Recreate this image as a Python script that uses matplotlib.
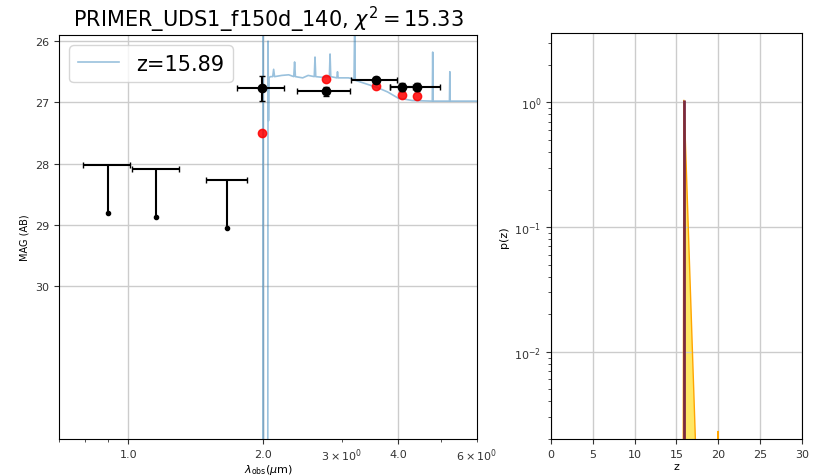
import numpy as np
import matplotlib
matplotlib.use("Agg")
import matplotlib.pyplot as plt

# --- photometry (AB mag) ---
det_wave = [1.99, 2.76, 3.57, 4.08, 4.40]
det_wlo = [1.75, 2.38, 3.14, 3.84, 3.84]
det_whi = [2.23, 3.12, 3.98, 4.33, 4.96]
det_mag = [26.77, 26.82, 26.63, 26.75, 26.75]
det_err = [0.20, 0.07, 0.05, 0.07, 0.06]
model_mag = [27.50, 26.62, 26.73, 26.88, 26.89]

lim_wave = [0.90, 1.15, 1.66]
lim_wlo = [0.79, 1.02, 1.49]
lim_whi = [1.01, 1.30, 1.84]
lim_mag = [28.02, 28.09, 28.27]

# --- best-fit template spectrum (vertices) ---
spec_wave = [1.97, 1.995, 2.000, 2.005, 2.03, 2.045, 2.050, 2.055, 2.06, 2.075,
             2.10, 2.11, 2.12, 2.20, 2.28, 2.34, 2.35, 2.36, 2.45, 2.52,
             2.60, 2.61, 2.62, 2.70, 2.81, 2.82, 2.83, 2.92, 2.93, 2.94,
             3.10, 3.19, 3.20, 3.21, 3.40, 3.60, 3.79, 4.00, 4.30, 4.77,
             4.78, 4.79, 5.21, 5.22, 5.23, 5.60, 6.10]
spec_mag = [40.0, 40.0, 25.9, 40.0, 40.0, 40.0, 26.0, 27.3, 26.60, 26.58,
            26.58, 26.46, 26.58, 26.56, 26.55, 26.58, 26.34, 26.58, 26.60, 26.56,
            26.58, 26.26, 26.58, 26.59, 26.58, 26.21, 26.58, 26.60, 26.50, 26.60,
            26.60, 26.62, 25.70, 26.64, 26.70, 26.76, 26.83, 26.93, 26.97, 26.98,
            26.18, 26.98, 26.98, 26.50, 26.98, 26.98, 26.98]

z_best = 15.89
chi2 = 15.33
obj_id = "PRIMER_UDS1_f150d_140"

# --- redshift probability ---
z_grid = [0.0, 15.55, 15.72, 15.89, 16.06, 16.23, 16.40, 16.57, 16.74, 16.91,
          17.08, 17.25, 17.42, 19.63, 19.80, 19.97, 20.14, 20.31, 30.0]
pz = [0.0, 0.0, 1e-6, 1.04, 0.50, 0.23, 0.105, 0.048, 0.022, 0.0100,
      0.0046, 0.0021, 1e-4, 0.0, 1e-4, 0.0023, 1e-4, 0.0, 0.0]

fig = plt.figure(figsize=(8.21, 4.77), dpi=100)
ax = fig.add_axes([0.0719, 0.0776, 0.5090, 0.8469])
axz = fig.add_axes([0.6711, 0.0776, 0.3057, 0.8511])

# SED panel
ax.plot(spec_wave, spec_mag, color="#1f77b4", alpha=0.45, lw=1.2,
        label=f"z={z_best:.2f}")
ax.plot(det_wave, model_mag, "o", color="red", ms=6, alpha=0.85, zorder=4)
xerr = [np.subtract(det_wave, det_wlo), np.subtract(det_whi, det_wave)]
ax.errorbar(det_wave, det_mag, xerr=xerr, yerr=det_err, fmt="o", color="k",
            ms=6, lw=1.5, capsize=2, zorder=5)

arrow_len = 0.78
lxerr = [np.subtract(lim_wave, lim_wlo), np.subtract(lim_whi, lim_wave)]
ax.errorbar(lim_wave, lim_mag, xerr=lxerr, fmt="none", ecolor="k", lw=1.5,
            capsize=2, zorder=5)
lim_end = np.add(lim_mag, arrow_len)
ax.vlines(lim_wave, lim_mag, lim_end, color="k", lw=1.5, zorder=5)
ax.plot(lim_wave, lim_end, "o", color="k", ms=3, zorder=5)

ax.set_xscale("log")
ax.set_xlim(0.7, 6.0)
ax.set_ylim(32.5, 25.9)
ax.set_yticks([26, 27, 28, 29, 30])
ax.set_xticks([1, 2, 4])
ax.set_xticklabels(["1.0", "2.0", "4.0"])
ax.tick_params(labelsize=8, colors="#333333")
ax.tick_params(which="minor", labelsize=8, colors="#333333")
ax.grid(True, which="major", color="#cccccc", lw=1)
ax.set_xlabel(r"$\lambda_{\rm obs}$($\mu$m)", fontsize=8, labelpad=-1)
ax.set_ylabel("MAG (AB)", fontsize=7)
ax.set_title(f"{obj_id}, $\\chi^2 = {chi2:.2f}$", fontsize=15)
ax.legend(loc="upper left", fontsize=15)

# p(z) panel
axz.fill_between(z_grid, pz, color="#ffe033", alpha=0.75, lw=0)
axz.plot(z_grid, pz, color="orange", lw=1)
axz.vlines(z_best, 1e-4, max(pz), color="#7a2a40", lw=2, zorder=5)
axz.set_yscale("log")
axz.set_xlim(0, 30)
axz.set_ylim(0.002, 3.6)
axz.set_xticks(np.arange(0, 31, 5))
axz.tick_params(labelsize=8, colors="#333333")
axz.tick_params(which="minor", colors="#333333")
axz.grid(True, which="major", color="#cccccc", lw=1)
axz.set_xlabel("z", fontsize=8, labelpad=2)
axz.set_ylabel("p(z)", fontsize=8)

fig.savefig("out.png", dpi=100)
